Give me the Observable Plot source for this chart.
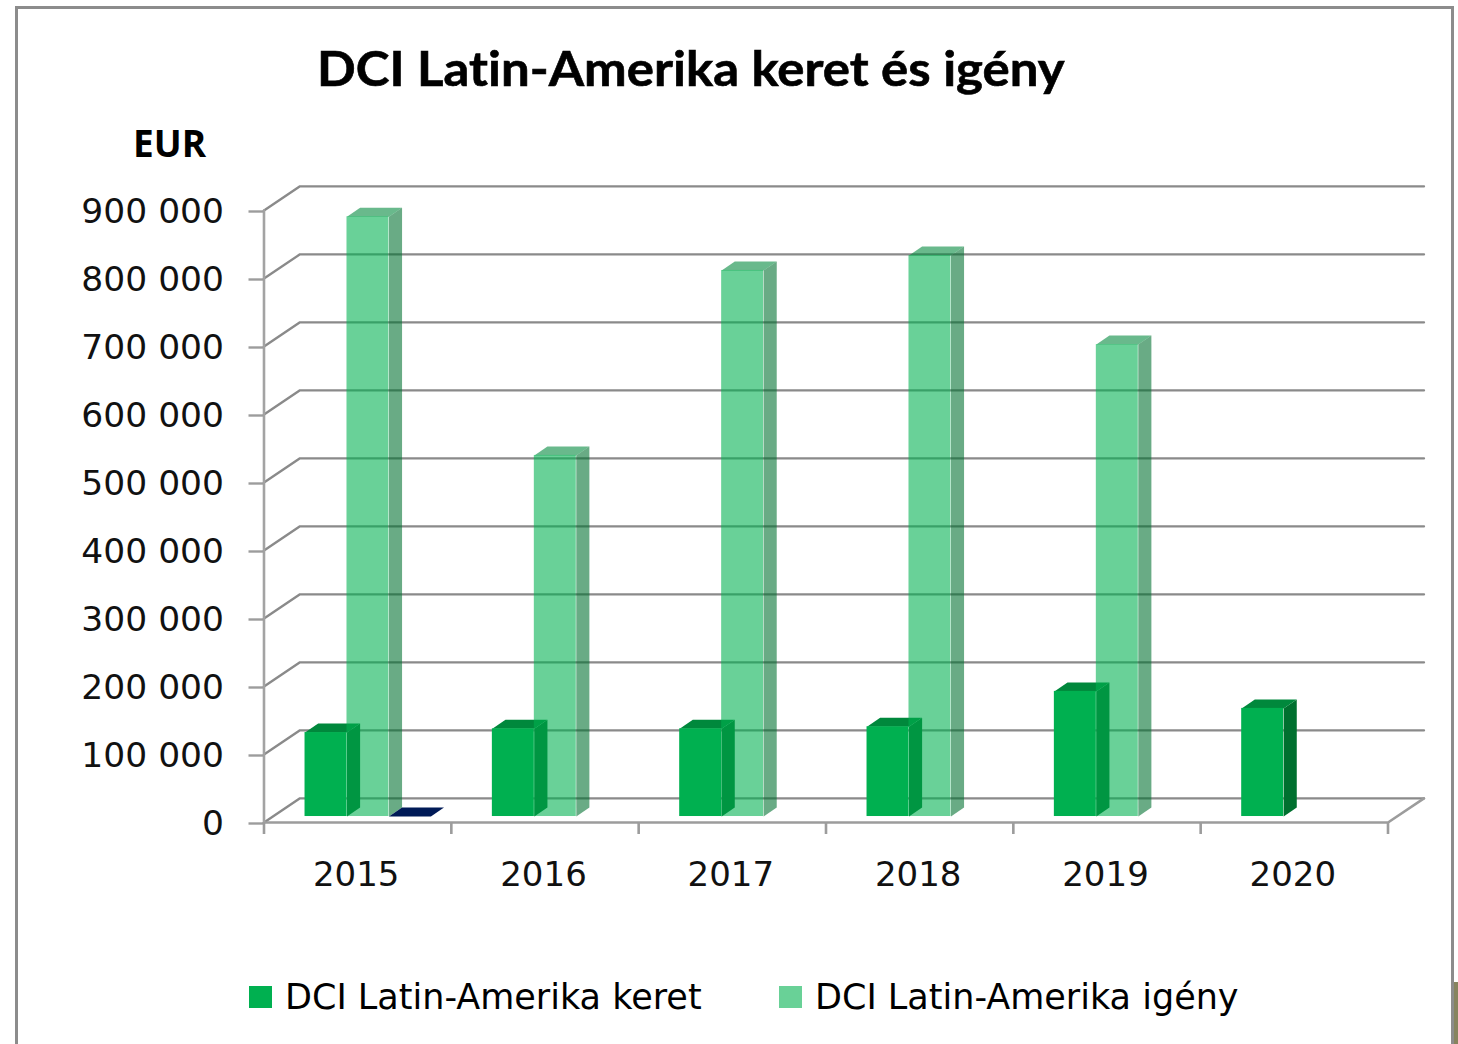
<!DOCTYPE html>
<html lang="hu">
<head>
<meta charset="utf-8">
<script src="https://cdn.jsdelivr.net/npm/d3@7"></script>
<script src="https://cdn.jsdelivr.net/npm/@observablehq/plot@0.6"></script>
<style>
html,body{margin:0;padding:0;background:#fff;overflow:hidden}
#page{position:relative;width:1458px;height:1044px;overflow:hidden;color:#000}
#frame{position:absolute;left:15px;top:6px;width:1433px;height:1060px;border:3px solid #8c8c8c;box-sizing:content-box}
#olive{position:absolute;left:1454px;top:982px;width:4px;height:62px;background:#87845f}
#title{position:absolute;left:317px;top:38px;font:700 48px Lato,sans-serif;white-space:nowrap;line-height:60px;font-variant-ligatures:none;transform-origin:0 50%;transform:scaleX(1.062);-webkit-text-stroke:0.6px #000}
#unit{position:absolute;left:133px;top:121px;font:700 37px "Open Sans",sans-serif;white-space:nowrap;line-height:44px}
#chart{position:absolute;left:0;top:150px}
.sw{position:absolute;top:986px;width:23px;height:22px}
.lg{position:absolute;top:975px;font:35px "DejaVu Sans",sans-serif;line-height:44px;white-space:nowrap}
svg text{font-family:"DejaVu Sans",sans-serif}
</style>
</head>
<body>
<div id="page">
  <div id="frame"></div>
  <div id="olive"></div>
  <div id="title"></div>
  <div id="unit"></div>
  <div id="chart"></div>
  <div class="sw" id="sw1"></div><div class="lg" id="lg1"></div>
  <div class="sw" id="sw2"></div><div class="lg" id="lg2"></div>
</div>
<script>
const titleText = "DCI Latin-Amerika keret és igény";
const unitText = "EUR";
const years = ["2015", "2016", "2017", "2018", "2019", "2020"];
const keretName = "DCI Latin-Amerika keret";
const igenyName = "DCI Latin-Amerika igény";
const keret = [123500, 129000, 129000, 132000, 184000, 159000];
const igeny = [882000, 531000, 803000, 825000, 694000, null];
const third = [0, null, null, null, null, null];
const yTicks = [0, 100000, 200000, 300000, 400000, 500000, 600000, 700000, 800000, 900000];

// 3D depth of the chart box and the bars, in scale units
const wallX = 0.192, wallY = 35500;
const barInsetY = 8800, barDepthX = 0.07, barDepthY = 13200;
const barStart = 0.219, barWidth = 0.224;
const n = years.length;

const green = {front:"#00b050", side:"#00702f", top:"#00883c"};
const navy = {front:"#001a57", side:"#001a57", top:"#001a57"};

function barRows(values, slot) {
  return values.flatMap((v, i) => v == null ? [] : [{
    x1: i + barStart + slot * barWidth,
    x2: i + barStart + (slot + 1) * barWidth,
    y1: barInsetY,
    y2: barInsetY + v
  }]);
}
function sidePolys(rows) {
  return rows.flatMap((r, id) => [
    {id, x: r.x2, y: r.y1},
    {id, x: r.x2, y: r.y2},
    {id, x: r.x2 + barDepthX, y: r.y2 + barDepthY},
    {id, x: r.x2 + barDepthX, y: r.y1 + barDepthY}
  ]);
}
function topPolys(rows) {
  return rows.flatMap((r, id) => [
    {id, x: r.x1, y: r.y2},
    {id, x: r.x2, y: r.y2},
    {id, x: r.x2 + barDepthX, y: r.y2 + barDepthY},
    {id, x: r.x1 + barDepthX, y: r.y2 + barDepthY}
  ]);
}
function barMarks(rows, c, opacity) {
  const o = {x: "x", y: "y", z: "id", stroke: "none", curve: "linear-closed", fillOpacity: opacity};
  return [
    Plot.line(sidePolys(rows), {...o, fill: c.side}),
    Plot.line(topPolys(rows), {...o, fill: c.top}),
    Plot.rect(rows, {x1: "x1", x2: "x2", y1: "y1", y2: "y2", fill: c.front, fillOpacity: opacity, inset: 0})
  ];
}

const gridRows = yTicks.flatMap(v => [
  {v, x: 0, y: v},
  {v, x: wallX, y: v + wallY},
  {v, x: n + wallX, y: v + wallY}
]);
const floorRows = [
  {x: 0, y: 0}, {x: n, y: 0}, {x: n + wallX, y: wallY}
];
const wallRows = [{x: 0, y: 0}, {x: 0, y: 900000}];
const fmt = v => d3.format(",")(v).replace(/,/g, " ");

const chart = Plot.plot({
  width: 1458,
  height: 810,
  marginLeft: 263.5,
  marginRight: 70.5,
  marginTop: 60,
  marginBottom: 138,
  x: {domain: [0, n], axis: null},
  y: {domain: [0, 900000], axis: null},
  style: {background: "transparent", overflow: "visible"},
  marks: [
    Plot.line(gridRows, {x: "x", y: "y", z: "v", stroke: "#8a8a8a", strokeWidth: 2.4}),
    Plot.line(floorRows, {x: "x", y: "y", stroke: "#9c9c9c", strokeWidth: 2.6}),
    Plot.line(wallRows, {x: "x", y: "y", stroke: "#a3a3a3", strokeWidth: 2.6}),
    Plot.axisY(yTicks, {anchor: "left", tickSize: 15, tickPadding: 25, tickFormat: fmt, fontSize: 34.5, dy: 1, stroke: "#9c9c9c", strokeWidth: 2.4, fill: "#111", label: null}),
    Plot.axisX(d3.range(n + 1), {anchor: "bottom", tickSize: 12, tickFormat: () => "", stroke: "#9c9c9c", strokeWidth: 2.6, label: null}),
    Plot.axisX(d3.range(n).map(i => i + 0.5), {anchor: "bottom", tickSize: 0, tickPadding: 39, dx: -1.5, tickFormat: v => years[Math.floor(v)], fontSize: 34, fill: "#111", label: null}),
    ...barMarks(barRows(keret, 0), green, 1),
    ...barMarks(barRows(igeny, 1), green, 0.59),
    ...barMarks(barRows(third, 2), navy, 1)
  ]
});
document.getElementById("chart").append(chart);
document.getElementById("title").textContent = titleText;
document.getElementById("unit").textContent = unitText;
const place = (sw, lg, swX, lgX, name, color) => {
  const s = document.getElementById(sw), l = document.getElementById(lg);
  s.style.left = swX + "px"; s.style.background = color;
  l.style.left = lgX + "px"; l.textContent = name;
};
place("sw1", "lg1", 249, 285, keretName, "#00b050");
place("sw2", "lg2", 779, 815, igenyName, "#69d197");
</script>
</body>
</html>
